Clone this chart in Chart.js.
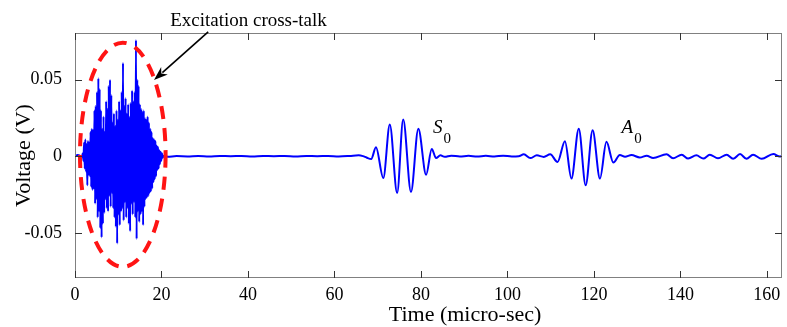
<!DOCTYPE html>
<html>
<head>
<meta charset="utf-8">
<title>Voltage signal</title>
<script src="https://cdn.jsdelivr.net/npm/chart.js@4.4.1/dist/chart.umd.min.js"></script>
<style>
  html, body { margin: 0; padding: 0; background: #fff; }
  #wrap { width: 787px; height: 327px; }
</style>
</head>
<body>
<div id="wrap"><canvas id="signal" width="787" height="327"></canvas></div>
<script>
const xTicks = [0, 20, 40, 60, 80, 100, 120, 140, 160];
const yTicks = [-0.05, 0, 0.05];
const yTickLabels = ["-0.05", "0", "0.05"];

// trace before the excitation starts: [time (micro-sec), volts]
const leadIn = [[0, 0.0002], [0.6, 0.0008], [1.2, 0.0003], [1.6, -0.0005]];

// excitation cross-talk, sampled every 0.15 micro-sec from 1.8
const burstStart = 1.8;
const burstStep = 0.15;
const burstVolts = [
  0.002, -0.003, 0.009, -0.008, 0.011, -0.010, 0.008, -0.019, 0.010, -0.012,
  0.009, -0.013, 0.016, -0.020, 0.018, -0.022, 0.017, -0.021, 0.030, -0.031,
  0.033, -0.028, 0.042, -0.040, 0.051, -0.036, 0.044, -0.047, 0.030, -0.053,
  0.018, -0.044, 0.026, -0.037, 0.016, -0.028, 0.036, -0.034, 0.031, -0.036,
  0.046, -0.026, 0.050, -0.033, 0.040, -0.024, 0.022, -0.034, 0.028, -0.040,
  0.020, -0.046, 0.030, -0.057, 0.024, -0.038, 0.036, -0.045, 0.030, -0.036,
  0.042, -0.034, 0.061, -0.042, 0.033, -0.030, 0.038, -0.040, 0.028, -0.034,
  0.034, -0.044, 0.026, -0.049, 0.035, -0.031, 0.043, -0.038, 0.036, -0.030,
  0.042, -0.040, 0.076, -0.054, 0.050, -0.036, 0.046, -0.043, 0.034, -0.038,
  0.031, -0.036, 0.029, -0.045, 0.030, -0.033, 0.025, -0.028, 0.024, -0.027,
  0.026, -0.026, 0.022, -0.024, 0.018, -0.023, 0.016, -0.021, 0.012, -0.017,
  0.011, -0.015, 0.010, -0.013, 0.007, -0.009, 0.006, -0.008, 0.004, -0.005,
  0.003, -0.003, 0.002, -0.001
];

// quiet stretch up to the S0 arrival
const quietGap = [
  [20.6, 0.0005], [21.4, -0.0003], [23.5, 0.0001], [26.0, -0.0001], [28.5, 0.0002],
  [31.0, -0.0001], [33.5, 0.0002], [36.0, 0.0000], [38.5, 0.0002], [41.0, -0.0001],
  [43.5, 0.0002], [46.0, 0.0000], [48.5, 0.0002], [51.0, -0.0001], [53.5, 0.0002],
  [56.0, 0.0000], [58.5, 0.0002], [61.0, -0.0001], [63.5, 0.0002], [65.6, 0.0006],
  [66.6, 0.0001], [67.4, -0.0008]
];

// S0 wave packet, peaks and troughs
const s0Packet = [
  [68.5, -0.0018], [69.6, 0.0059], [71.3, -0.0142], [72.8, 0.0207], [74.5, -0.0240],
  [75.9, 0.0240], [77.7, -0.0233], [79.4, 0.0179], [81.2, -0.0120], [82.5, 0.0048],
  [83.5, -0.0012]
];

// between the two packets
const midGap = [
  [84.5, 0.0006], [85.5, -0.0003], [87.0, 0.0004], [89.0, -0.0002], [91.0, 0.0003],
  [93.0, -0.0002], [95.0, 0.0003], [97.0, -0.0002], [99.0, 0.0004], [101.0, -0.0002],
  [102.6, 0.0000], [103.8, 0.0013], [105.3, -0.0012], [106.8, 0.0006], [108.4, -0.0004],
  [109.9, 0.0013]
];

// A0 wave packet, peaks and troughs
const a0Packet = [
  [111.6, -0.0037], [113.3, 0.0098], [114.8, -0.0146], [116.5, 0.0180], [118.1, -0.0190],
  [119.7, 0.0170], [121.4, -0.0146], [122.9, 0.0094], [124.5, -0.0041]
];

// late reflections ripple
const tailRipple = [
  [126.0, 0.0009], [127.2, -0.0003], [128.7, 0.0008], [130.6, -0.0008], [132.2, 0.0004],
  [133.7, -0.0011], [136.8, 0.0013], [138.3, -0.0013], [140.3, 0.0010], [141.8, -0.0015],
  [143.7, 0.0006], [145.3, -0.0015], [146.8, 0.0010], [148.7, -0.0013], [150.7, 0.0010],
  [152.2, -0.0017], [153.8, 0.0014], [155.3, -0.0017], [156.8, 0.0010], [158.8, -0.0017],
  [161.5, 0.0015], [163.0, -0.0002], [163.5, 0.0001]
];

const trace = [];
leadIn.forEach(([t, v]) => trace.push({ x: t, y: v }));
burstVolts.forEach((v, i) => trace.push({ x: burstStart + i * burstStep, y: v }));
[...quietGap, ...s0Packet, ...midGap, ...a0Packet, ...tailRipple]
  .forEach(([t, v]) => trace.push({ x: t, y: v }));

const serif = "'Liberation Serif', 'Times New Roman', serif";

const figureMarks = {
  id: "figureMarks",
  beforeDraw(chart) {
    const { ctx, width, height } = chart;
    ctx.save();
    ctx.fillStyle = "#fff";
    ctx.fillRect(0, 0, width, height);
    ctx.restore();
  },
  afterDatasetsDraw(chart) {
    const { ctx, scales: { x, y } } = chart;
    // dashed ring round the cross-talk
    const cx = x.getPixelForValue(11.05);
    const cy = y.getPixelForValue(0.001);
    const rx = x.getPixelForValue(11.05 + 9.9) - cx;
    const ry = cy - y.getPixelForValue(0.001 + 0.0732);
    ctx.save();
    ctx.strokeStyle = "#ff1414";
    ctx.lineWidth = 4;
    ctx.setLineDash([13, 9]);
    ctx.beginPath();
    ctx.ellipse(cx, cy, rx, ry, 0, 0, Math.PI * 2);
    ctx.stroke();
    ctx.restore();
  },
  afterDraw(chart) {
    const { ctx, chartArea: a, scales: { x, y } } = chart;
    ctx.save();

    // box and inward ticks
    ctx.strokeStyle = "#808080";
    ctx.lineWidth = 1;
    ctx.strokeRect(a.left + 0.5, a.top + 0.5, a.right - a.left - 1, a.bottom - a.top - 1);
    ctx.strokeStyle = "#333";
    ctx.beginPath();
    xTicks.forEach(t => {
      const px = Math.round(x.getPixelForValue(t)) + 0.5;
      ctx.moveTo(px, a.bottom); ctx.lineTo(px, a.bottom - 7);
      ctx.moveTo(px, a.top); ctx.lineTo(px, a.top + 7);
    });
    yTicks.forEach(v => {
      const py = Math.round(y.getPixelForValue(v)) + 0.5;
      ctx.moveTo(a.left, py); ctx.lineTo(a.left + 7, py);
      ctx.moveTo(a.right, py); ctx.lineTo(a.right - 7, py);
    });
    ctx.stroke();

    ctx.fillStyle = "#000";
    ctx.textBaseline = "middle";
    ctx.textAlign = "center";
    ctx.font = "22px " + serif;
    ctx.fillText("Time (micro-sec)", x.getPixelForValue(90.2), 315);

    // callout text and arrow
    ctx.textAlign = "left";
    ctx.textBaseline = "alphabetic";
    ctx.font = "19px " + serif;
    ctx.fillText("Excitation cross-talk", x.getPixelForValue(22.0), y.getPixelForValue(0.085));

    const x0 = x.getPixelForValue(30.8), y0 = y.getPixelForValue(0.0812);
    const x1 = x.getPixelForValue(18.27), y1 = y.getPixelForValue(0.0498);
    const ang = Math.atan2(y1 - y0, x1 - x0);
    const head = 14, half = 5;
    ctx.strokeStyle = "#000";
    ctx.fillStyle = "#000";
    ctx.lineWidth = 1.6;
    ctx.beginPath();
    ctx.moveTo(x0, y0);
    ctx.lineTo(x1 - Math.cos(ang) * head * 0.8, y1 - Math.sin(ang) * head * 0.8);
    ctx.stroke();
    ctx.beginPath();
    ctx.moveTo(x1, y1);
    ctx.lineTo(x1 - Math.cos(ang) * head - Math.sin(ang) * half, y1 - Math.sin(ang) * head + Math.cos(ang) * half);
    ctx.lineTo(x1 - Math.cos(ang) * head * 0.7, y1 - Math.sin(ang) * head * 0.7);
    ctx.lineTo(x1 - Math.cos(ang) * head + Math.sin(ang) * half, y1 - Math.sin(ang) * head - Math.cos(ang) * half);
    ctx.closePath();
    ctx.fill();

    // mode labels
    const modeLabel = (letter, t, v) => {
      const px = x.getPixelForValue(t), py = y.getPixelForValue(v);
      ctx.font = "italic 19px " + serif;
      ctx.fillText(letter, px, py);
      const w = ctx.measureText(letter).width;
      ctx.font = "15px " + serif;
      ctx.fillText("0", px + w + 1, py + 10);
    };
    modeLabel("S", 82.8, 0.0152);
    modeLabel("A", 126.4, 0.0152);

    ctx.restore();
  }
};

new Chart(document.getElementById("signal"), {
  type: "line",
  data: {
    datasets: [
      {
        label: "Voltage",
        data: trace,
        borderColor: "#0000ff",
        borderWidth: 2,
        pointRadius: 0,
        fill: false,
        cubicInterpolationMode: "monotone",
      },
    ],
  },
  options: {
    responsive: false,
    animation: false,
    devicePixelRatio: 1,
    layout: { padding: { top: 33, right: 5, bottom: 0, left: 0 } },
    plugins: {
      legend: { display: false },
      tooltip: { enabled: false },
    },
    scales: {
      x: {
        type: "linear",
        min: 0,
        max: 163.5,
        grid: { display: false },
        border: { display: false },
        afterBuildTicks: axis => { axis.ticks = xTicks.map(v => ({ value: v })); },
        afterFit: axis => { axis.height = 49; },
        ticks: {
          padding: -2,
          color: "#000",
          font: { family: serif, size: 18 },
          callback: v => String(v),
        },
      },
      y: {
        type: "linear",
        min: -0.0795,
        max: 0.0805,
        grid: { display: false },
        border: { display: false },
        afterBuildTicks: axis => { axis.ticks = yTicks.map(v => ({ value: v })); },
        afterFit: axis => { axis.width = 75; },
        ticks: {
          padding: 5,
          color: "#000",
          font: { family: serif, size: 18 },
          callback: v => yTickLabels[yTicks.indexOf(v)],
        },
        title: {
          display: true,
          text: "Voltage (V)",
          color: "#000",
          font: { family: serif, size: 22 },
          padding: { top: 11, bottom: 0 },
        },
      },
    },
  },
  plugins: [figureMarks],
});
</script>
</body>
</html>
